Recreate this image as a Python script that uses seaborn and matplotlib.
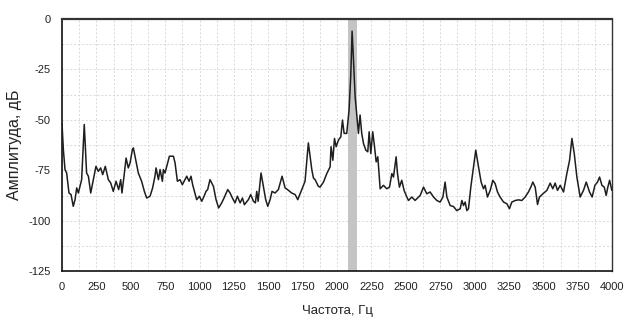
import numpy as np
import pandas as pd
import matplotlib
matplotlib.use("Agg")
import matplotlib.pyplot as plt
import seaborn as sns
from matplotlib.ticker import MultipleLocator

sns.set_theme(style="white")
plt.rcParams['font.family'] = ['Liberation Sans', 'DejaVu Sans']
plt.rcParams['axes.unicode_minus'] = False

# Спектр: частота (Гц) и амплитуда (дБ)
freq = [
    0, 10, 22, 34, 51, 66, 82, 95, 107, 119, 131, 143, 162, 179, 192, 209,
    228, 247, 264, 281, 296, 315, 337, 354, 373, 393, 412, 427, 436, 451,
    466, 482, 495, 512, 519, 531, 555, 579, 599, 616, 640, 659, 676, 684,
    701, 713, 730, 737, 749, 781, 810, 822, 839, 858, 875, 907, 924, 938,
    950, 979, 999, 1016, 1033, 1047, 1059, 1076, 1101, 1120, 1139, 1161,
    1178, 1205, 1222, 1239, 1258, 1275, 1295, 1312, 1326, 1355, 1372, 1392,
    1406, 1416, 1426, 1435, 1447, 1464, 1481, 1496, 1513, 1527, 1549, 1573,
    1600, 1622, 1639, 1670, 1695, 1714, 1743, 1767, 1791, 1816, 1828, 1840,
    1864, 1876, 1901, 1925, 1949, 1956, 1969, 1981, 1993, 2010, 2027, 2039,
    2051, 2070, 2087, 2099, 2109, 2119, 2131, 2143, 2155, 2167, 2179, 2192,
    2209, 2223, 2233, 2245, 2259, 2272, 2284, 2296, 2313, 2337, 2361, 2381,
    2398, 2410, 2429, 2439, 2453, 2470, 2487, 2507, 2519, 2543, 2567, 2592,
    2604, 2628, 2652, 2676, 2701, 2725, 2749, 2769, 2785, 2798, 2822, 2846,
    2870, 2895, 2907, 2919, 2931, 2943, 2955, 2972, 2992, 3008, 3028, 3047,
    3064, 3076, 3093, 3113, 3132, 3149, 3166, 3185, 3210, 3234, 3253, 3270,
    3295, 3319, 3343, 3367, 3391, 3408, 3423, 3440, 3457, 3471, 3496, 3525,
    3549, 3568, 3585, 3602, 3622, 3646, 3670, 3690, 3707, 3724, 3743, 3767,
    3791, 3811, 3835, 3854, 3874, 3893, 3908, 3925, 3942, 3956, 3968, 3981,
    3997,
]
amplitude = [
    -51.5, -64.7, -74.6, -76.3, -86.2, -87.0, -92.8, -89.5, -83.7, -86.2,
    -82.9, -79.6, -52.3, -76.3, -77.9, -86.2, -79.6, -73.0, -75.5, -73.8,
    -77.1, -73.0, -79.6, -81.2, -85.4, -80.4, -84.5, -79.6, -86.2, -77.9,
    -68.9, -73.8, -71.3, -64.7, -63.9, -68.0, -76.3, -80.4, -85.4, -88.7,
    -87.8, -83.7, -77.9, -73.8, -79.6, -74.6, -80.4, -74.6, -76.3, -68.0,
    -68.0, -71.3, -80.4, -79.6, -82.1, -77.9, -80.4, -77.9, -82.1, -89.5,
    -87.8, -90.3, -87.8, -85.4, -84.5, -79.6, -82.9, -89.5, -93.6, -91.1,
    -88.7, -84.5, -86.2, -88.7, -91.1, -87.8, -91.1, -88.7, -92.0, -89.5,
    -87.0, -90.3, -91.1, -85.4, -90.3, -84.5, -76.3, -82.9, -89.5, -92.8,
    -89.5, -85.4, -86.2, -84.5, -77.9, -83.7, -84.5, -86.2, -87.0, -89.5,
    -84.5, -80.4, -61.4, -74.6, -78.8, -79.6, -82.9, -83.3, -80.8, -76.6,
    -73.3, -63.3, -70.0, -59.2, -63.3, -60.0, -58.4, -50.1, -56.7, -56.7,
    -45.1, -28.5, -6.1, -20.2, -38.5, -47.6, -56.7, -47.6, -56.7, -61.7,
    -65.0, -65.8, -55.9, -66.7, -55.9, -63.3, -70.8, -68.3, -84.1, -82.4,
    -84.1, -83.3, -76.6, -78.3, -68.3, -76.6, -83.3, -79.9, -84.9, -88.2,
    -89.9, -88.2, -89.9, -88.2, -87.4, -83.3, -86.6, -85.7, -88.2, -89.9,
    -90.7, -88.2, -80.8, -88.2, -92.4, -92.9, -94.9, -94.0, -89.9, -92.4,
    -90.7, -94.9, -94.0, -83.3, -73.3, -65.0, -73.3, -80.8, -84.1, -82.4,
    -88.2, -84.9, -79.9, -81.6, -85.7, -88.2, -90.7, -91.5, -94.0, -90.7,
    -89.9, -89.6, -89.9, -88.2, -85.7, -83.3, -80.8, -83.3, -91.9, -88.2,
    -86.6, -84.9, -81.3, -84.1, -81.3, -84.9, -82.4, -85.7, -76.6, -70.0,
    -59.2, -66.7, -78.3, -88.2, -84.9, -80.8, -85.7, -88.2, -82.4, -80.8,
    -78.3, -82.4, -83.3, -87.4, -83.3, -79.9, -84.9,
]
band = [2078, 2146]  # выделенная полоса около основного пика

df = pd.DataFrame({"freq": freq, "amp": amplitude})

fig = plt.figure(figsize=(6.26, 3.25), dpi=100)
ax = fig.add_axes([0.099, 0.165, 0.879, 0.777])

ax.axvspan(band[0], band[1], color='#c4c4c4', lw=0, zorder=1)
sns.lineplot(data=df, x="freq", y="amp", ax=ax, color='#1e1e1e',
             linewidth=1.1, zorder=3, estimator=None, sort=False)

ax.set_xlim(0, 4000)
ax.set_ylim(-125, 0)
ax.xaxis.set_major_locator(MultipleLocator(250))
ax.xaxis.set_minor_locator(MultipleLocator(125))
ax.yaxis.set_major_locator(MultipleLocator(25))
ax.yaxis.set_minor_locator(MultipleLocator(12.5))

ax.grid(which='both', color='#d8d8d8', linestyle=(0, (2, 2)), linewidth=0.7, zorder=0)
ax.set_axisbelow(True)

ax.tick_params(axis='both', which='major', direction='out', length=4, width=0.8,
               labelsize=8, colors='#222222', pad=4)
ax.tick_params(axis='both', which='minor', direction='out', length=2.5, width=0.7,
               colors='#222222')

for side in ['left', 'bottom']:
    ax.spines[side].set_color('#111111')
    ax.spines[side].set_linewidth(1.2)
ax.spines['top'].set_color('#333333')
ax.spines['top'].set_linewidth(1.6)
ax.spines['right'].set_color('#333333')
ax.spines['right'].set_linewidth(1.0)

ax.set_xlabel('Частота, Гц', fontsize=9.5, color='#222222', labelpad=9)
ax.set_ylabel('Амплитуда, дБ', fontsize=11.5, color='#222222', labelpad=5)

fig.savefig('out.png', dpi=100, facecolor='white')
